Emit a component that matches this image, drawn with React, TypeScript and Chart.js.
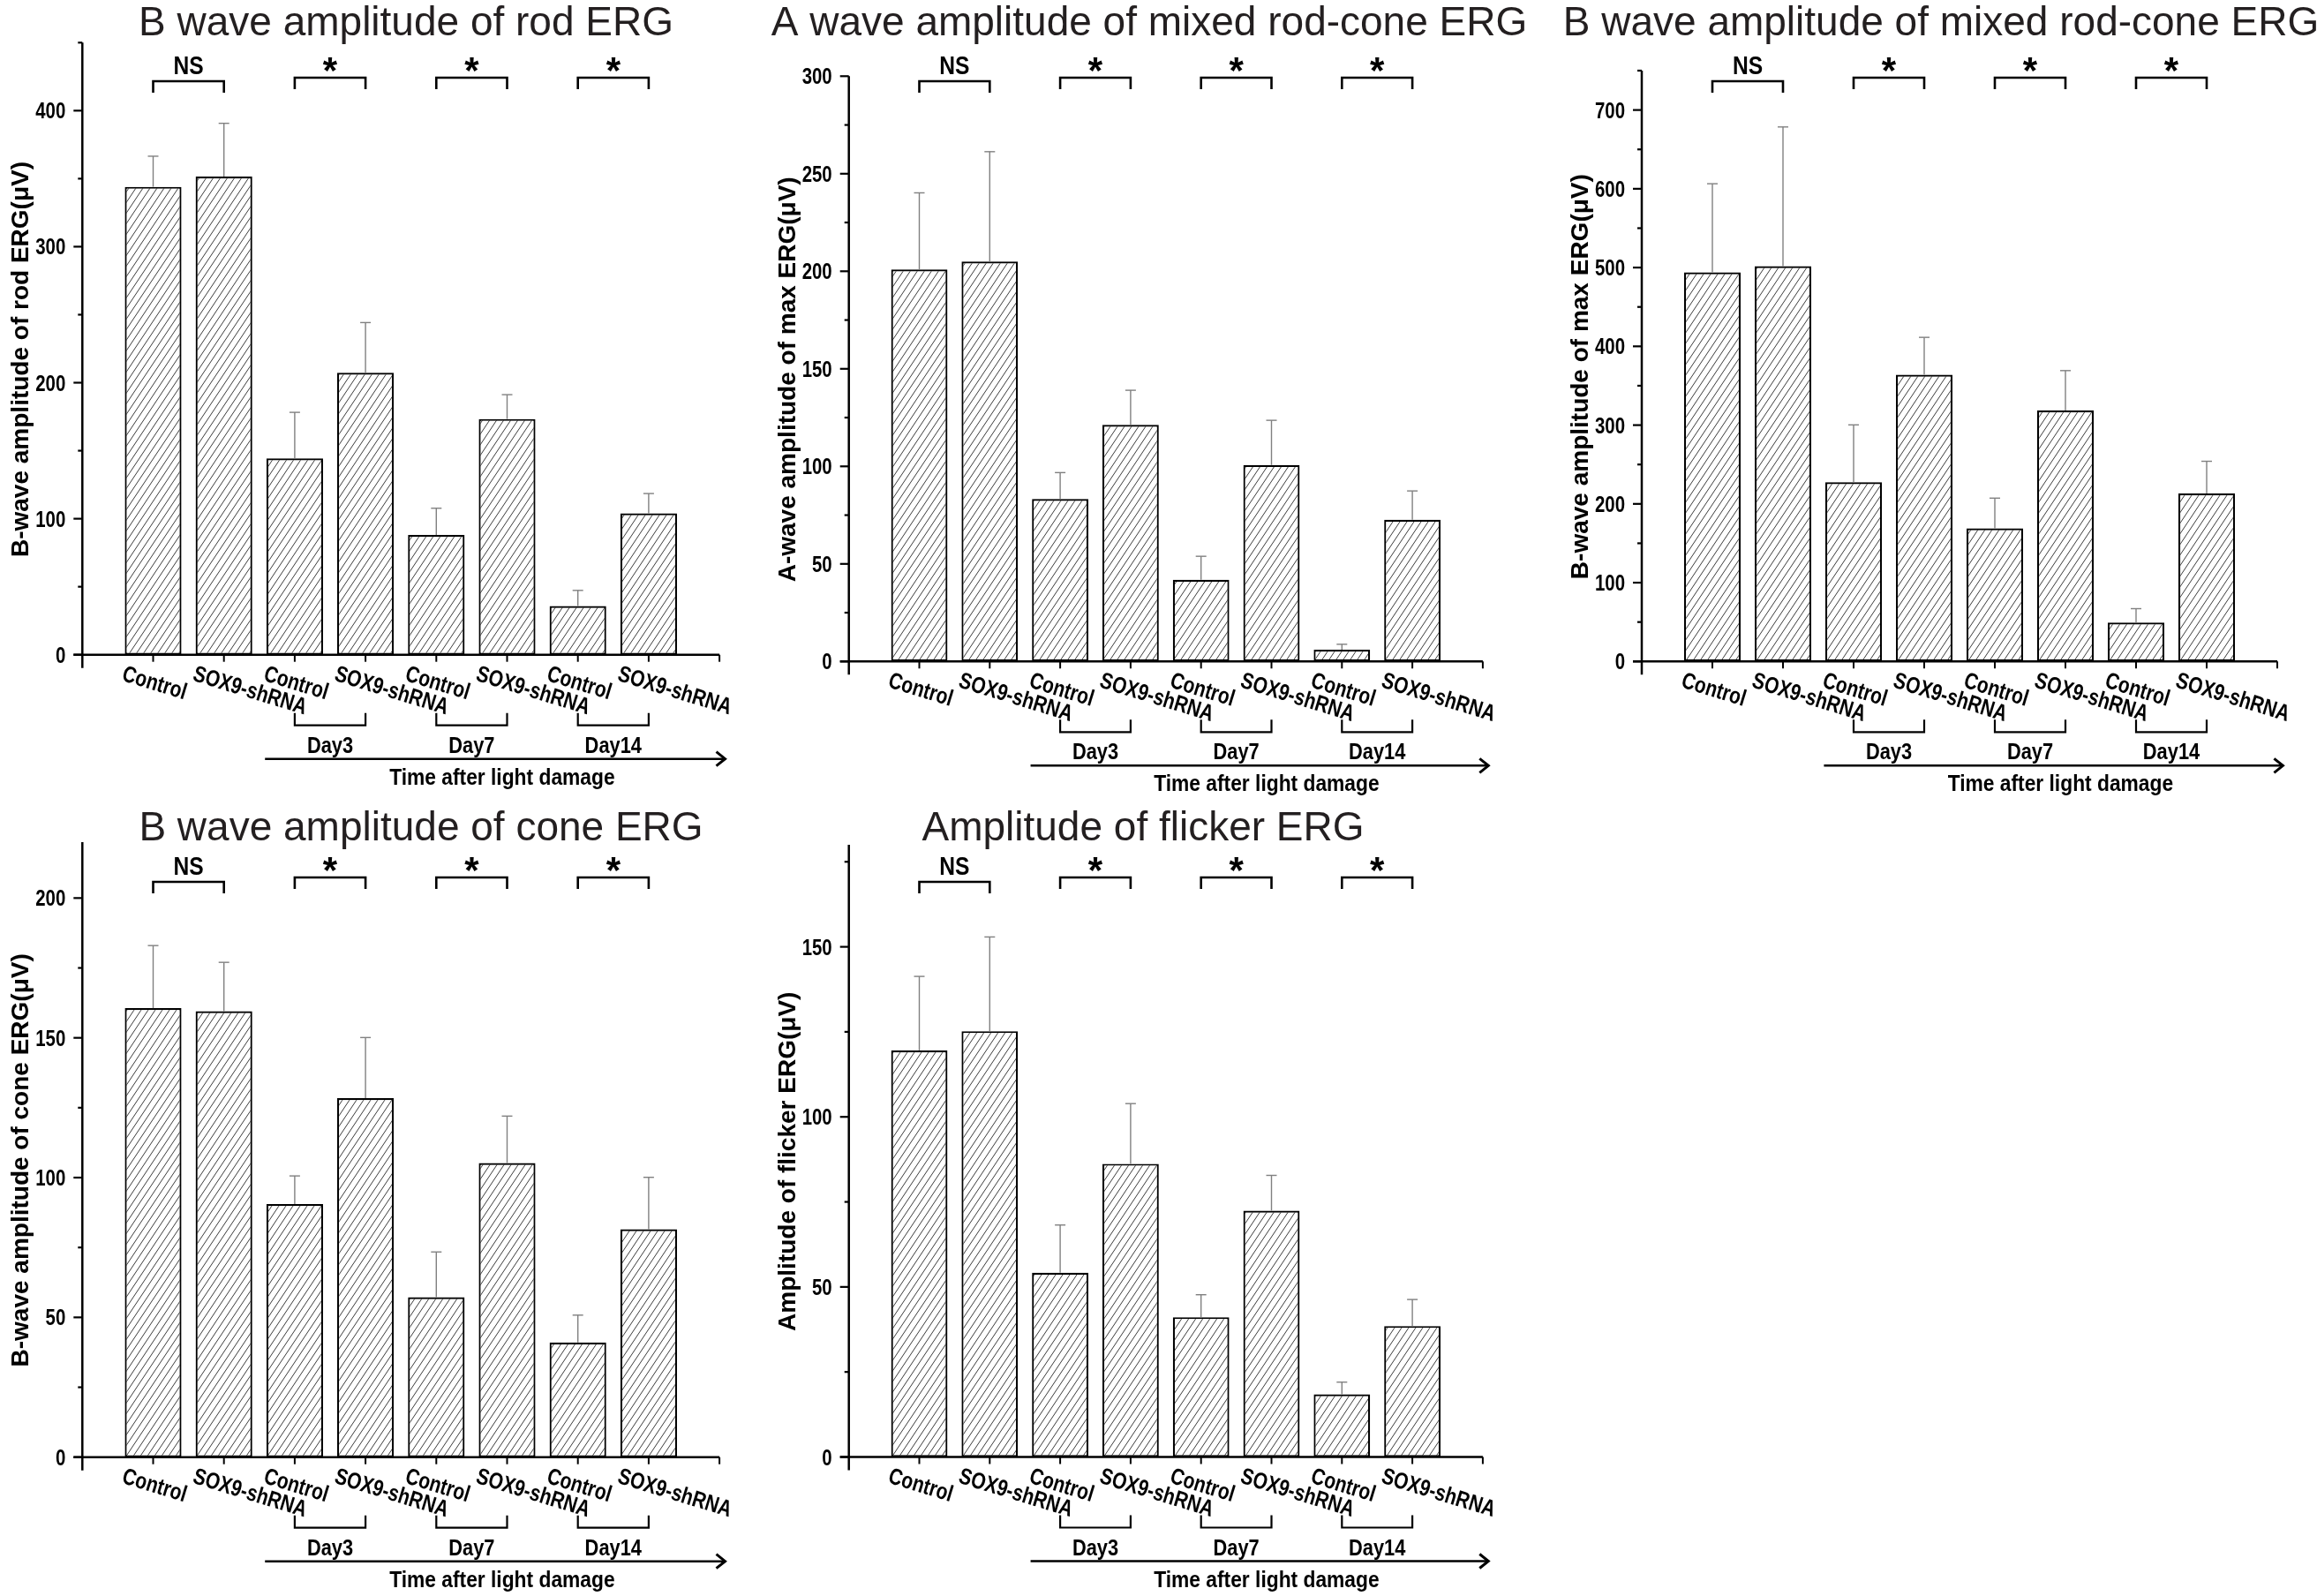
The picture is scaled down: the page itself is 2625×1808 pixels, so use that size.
import React, { useEffect, useRef } from 'react';
import { Chart, registerables } from 'chart.js';
Chart.register(...registerables);

// ---------- data ----------
const groupLabels = ['Control', 'SOX9-shRNA', 'Control', 'SOX9-shRNA', 'Control', 'SOX9-shRNA', 'Control', 'SOX9-shRNA'];
const dayLabels = ['Day3', 'Day7', 'Day14'];
const sigLabels = ['NS', '*', '*', '*'];
const arrowLabel = 'Time after light damage';

const rodMean = [344, 351.5, 144.3, 207.3, 88, 173.3, 35.8, 104];
const rodSD = [22.5, 39.2, 33.9, 36.9, 19.7, 17.9, 11.5, 14.5];

const aMaxMean = [200.9, 205, 83.3, 121.3, 41.9, 100.7, 6, 72.6];
const aMaxSD = [39.3, 56.3, 13.5, 17.7, 12, 22.9, 2.8, 14.8];

const bMaxMean = [494, 501.7, 227.5, 364, 169, 318.5, 49.4, 213.2];
const bMaxSD = [112.4, 176.8, 72.8, 47.4, 38.3, 50.7, 17.6, 40.9];

const coneMean = [160.6, 159.5, 90.5, 128.4, 57.2, 105.2, 41, 81.5];
const coneSD = [22.4, 17.5, 10.1, 21.7, 16.2, 16.8, 9.8, 18.6];

const flickerMean = [119.5, 125.2, 54.2, 86.2, 41.1, 72.4, 18.4, 38.5];
const flickerSD = [21.8, 27.7, 14, 17.7, 6.6, 10.4, 3.6, 7.8];

const titles = [
  'B wave amplitude of rod ERG',
  'A wave amplitude of mixed rod-cone ERG',
  'B wave amplitude of mixed rod-cone ERG',
  'B wave amplitude of cone ERG',
  'Amplitude of flicker ERG',
];
const yTitles = [
  'B-wave amplitude of rod ERG(\u03bcV)',
  'A-wave amplitude of max ERG(\u03bcV)',
  'B-wave amplitude of max ERG(\u03bcV)',
  'B-wave amplitude of cone ERG(\u03bcV)',
  'Amplitude of flicker ERG(\u03bcV)',
];
const yMax = [450, 300, 750, 220, 180];
const yMajor = [100, 50, 100, 50, 50];
const yMinor = [50, 25, 50, 25, 25];

// ---------- layout (page pixels) ----------
type Layout = {
  left: number; top: number; w: number; h: number;
  xL: number; dx: number; y0: number; yTop: number;
  titleX: number; titleY: number; nsY: number; starY: number;
};
const layouts: Layout[] = [
  { left: 0, top: 0, w: 870, h: 904, xL: 93.3, dx: 80.2, y0: 741.7, yTop: 48.3, titleX: 460, titleY: 40, nsY: 92, starY: 88 },
  { left: 860, top: 0, w: 890, h: 904, xL: 961.7, dx: 79.8, y0: 749.3, yTop: 86.3, titleX: 1302, titleY: 40, nsY: 92, starY: 88 },
  { left: 1745, top: 0, w: 880, h: 904, xL: 1860, dx: 80, y0: 749.3, yTop: 80, titleX: 2199, titleY: 40, nsY: 92, starY: 88 },
  { left: 0, top: 904, w: 870, h: 904, xL: 93.3, dx: 80.2, y0: 1650.7, yTop: 954, titleX: 477, titleY: 952, nsY: 999, starY: 994 },
  { left: 860, top: 904, w: 890, h: 904, xL: 961.7, dx: 79.8, y0: 1650.5, yTop: 957, titleX: 1295, titleY: 952, nsY: 999, starY: 994 },
];

const means = [rodMean, aMaxMean, bMaxMean, coneMean, flickerMean];
const sds = [rodSD, aMaxSD, bMaxSD, coneSD, flickerSD];

const FONT = '"Liberation Sans", Arial, Helvetica, sans-serif';

type TOpts = { size: number; weight?: string; align?: CanvasTextAlign; sx?: number; rot?: number; color?: string };
function drawText(ctx: CanvasRenderingContext2D, s: string, x: number, y: number, o: TOpts) {
  ctx.save();
  ctx.translate(x, y);
  if (o.rot) ctx.rotate(o.rot);
  ctx.scale(o.sx ?? 1, 1);
  ctx.font = `${o.weight ?? 'bold'} ${o.size}px ${FONT}`;
  ctx.textAlign = o.align ?? 'left';
  ctx.textBaseline = 'alphabetic';
  ctx.fillStyle = o.color ?? '#000';
  ctx.fillText(s, 0, 0);
  ctx.restore();
}

function line(ctx: CanvasRenderingContext2D, pts: number[][], w: number, color = '#000') {
  ctx.save();
  ctx.beginPath();
  ctx.moveTo(pts[0][0], pts[0][1]);
  for (let i = 1; i < pts.length; i++) ctx.lineTo(pts[i][0], pts[i][1]);
  ctx.lineWidth = w;
  ctx.strokeStyle = color;
  ctx.lineCap = 'butt';
  ctx.lineJoin = 'miter';
  ctx.stroke();
  ctx.restore();
}

function makeHatch(): CanvasPattern | string {
  const c = document.createElement('canvas');
  const w = 8, h = 12;
  c.width = w; c.height = h;
  const g = c.getContext('2d');
  if (!g) return '#fff';
  g.fillStyle = '#fff';
  g.fillRect(0, 0, w, h);
  g.strokeStyle = '#3c3c3c';
  g.lineWidth = 1;
  for (const o of [-w, 0, w]) {
    g.beginPath();
    g.moveTo(o - 1, h + 1.5);
    g.lineTo(o + w + 1, -1.5);
    g.stroke();
  }
  return g.createPattern(c, 'repeat') ?? '#fff';
}

function Panel({ idx }: { idx: number }) {
  const ref = useRef<HTMLCanvasElement>(null);
  const L = layouts[idx];
  useEffect(() => {
    const canvas = ref.current;
    if (!canvas) return;
    const m = means[idx];
    const sd = sds[idx];
    const decor = {
      id: 'decor' + idx,
      afterDatasetsDraw(chart: any) {
        const ctx: CanvasRenderingContext2D = chart.ctx;
        const xs = chart.scales.x;
        const ys = chart.scales.y;
        const ox = L.left, oy = L.top;
        const X = (v: number) => xs.getPixelForValue(v);
        const Y = (v: number) => ys.getPixelForValue(v);
        const xL = X(0), xR = X(9), y0 = Y(0), yT = Y(yMax[idx]);

        // error bars
        for (let i = 0; i < m.length; i++) {
          const px = X(i + 1);
          const b = Y(m[i]);
          const t = Y(m[i] + sd[i]);
          line(ctx, [[px, b], [px, t]], 1.4, '#808080');
          line(ctx, [[px - 6, t], [px + 6, t]], 1.4, '#808080');
        }

        // axes
        line(ctx, [[xL, yT], [xL, y0 + 15]], 2.5);
        line(ctx, [[xL - 10, y0], [xR, y0]], 2.5);
        // y ticks
        const mj = yMajor[idx], mn = yMinor[idx];
        for (let v = 0; v <= yMax[idx] + 1e-6; v += mn) {
          const py = Y(v);
          const isMajor = Math.abs(v / mj - Math.round(v / mj)) < 1e-6;
          line(ctx, [[xL - (isMajor ? 10 : 5), py], [xL, py]], 2.2);
          if (isMajor) drawText(ctx, String(v), xL - 19, py + 9, { size: 25.5, align: 'right', sx: 0.8 });
        }
        // x ticks
        for (let i = 1; i <= 9; i++) {
          const px = X(i);
          line(ctx, [[px, y0], [px, y0 + 8]], 2);
        }

        // title
        drawText(ctx, titles[idx], L.titleX - ox, L.titleY - oy, { size: 46, weight: 'normal', align: 'center', color: '#231f20' });

        // y axis title
        const cy = (yT + y0) / 2 + 12;
        drawText(ctx, yTitles[idx], xL - 61, cy, { size: 28, align: 'center', rot: -Math.PI / 2 });

        // significance brackets
        for (let k = 0; k < sigLabels.length; k++) {
          const a = X(2 * k + 1), b = X(2 * k + 2);
          const by = (k === 0 ? L.nsY : L.starY) - oy;
          line(ctx, [[a, by + 13], [a, by], [b, by], [b, by + 13]], 2.6);
          const mid = (a + b) / 2;
          if (sigLabels[k] === '*') drawText(ctx, '*', mid, by + 6, { size: 42, align: 'center' });
          else drawText(ctx, sigLabels[k], mid, by - 8, { size: 30, align: 'center', sx: 0.82 });
        }

        // rotated x labels
        const rot = (17 * Math.PI) / 180;
        for (let i = 0; i < groupLabels.length; i++) {
          const px = X(i + 1);
          ctx.save();
          ctx.translate(px - 31, y0 + 11);
          ctx.rotate(rot);
          ctx.scale(0.81, 1);
          ctx.font = `bold 26px ${FONT}`;
          ctx.textAlign = 'left';
          ctx.textBaseline = 'alphabetic';
          ctx.fillStyle = '#000';
          ctx.fillText(groupLabels[i], 0, 18.6);
          ctx.restore();
        }

        // day brackets
        for (let d = 0; d < dayLabels.length; d++) {
          const a = X(3 + 2 * d), b = X(4 + 2 * d);
          const by = y0 + 80;
          line(ctx, [[a, by - 14], [a, by], [b, by], [b, by - 14]], 2.2);
          drawText(ctx, dayLabels[d], (a + b) / 2, y0 + 111, { size: 26, align: 'center', sx: 0.84 });
        }

        // arrow
        const ay = y0 + 118;
        const ax0 = X(2.58), ax1 = X(9.08);
        line(ctx, [[ax0, ay], [ax1 - 2, ay]], 2.6);
        line(ctx, [[ax1 - 10, ay - 8], [ax1, ay], [ax1 - 10, ay + 8]], 3);
        drawText(ctx, arrowLabel, X(5.93), y0 + 147, { size: 26.5, align: 'center', sx: 0.86 });
      },
    };

    const chart = new Chart(canvas, {
      type: 'bar',
      data: {
        datasets: [
          {
            data: m.map((v, i) => ({ x: i + 1, y: v })),
            backgroundColor: makeHatch() as any,
            borderColor: '#000',
            borderWidth: 2.2,
            borderSkipped: false,
            barPercentage: 0.8,
            categoryPercentage: 1,
          },
        ],
      },
      options: {
        animation: false,
        responsive: false,
        maintainAspectRatio: false,
        devicePixelRatio: 1,
        events: [],
        layout: {
          padding: {
            left: L.xL - L.left,
            right: L.left + L.w - (L.xL + 9 * L.dx),
            top: L.yTop - L.top,
            bottom: L.top + L.h - L.y0,
          },
        },
        plugins: { legend: { display: false }, tooltip: { enabled: false }, title: { display: false } },
        scales: {
          x: { type: 'linear', min: 0, max: 9, offset: false, display: false },
          y: { type: 'linear', min: 0, max: yMax[idx], display: false },
        },
      },
      plugins: [decor],
    } as any);
    return () => chart.destroy();
  }, [idx]);
  return (
    <canvas
      ref={ref}
      width={L.w}
      height={L.h}
      style={{ position: 'absolute', left: L.left, top: L.top, width: L.w, height: L.h }}
    />
  );
}

export default function App() {
  return (
    <div style={{ position: 'absolute', left: 0, top: 0, width: 2625, height: 1808, background: '#fff', overflow: 'hidden' }}>
      {layouts.map((_, i) => (
        <Panel key={i} idx={i} />
      ))}
    </div>
  );
}
